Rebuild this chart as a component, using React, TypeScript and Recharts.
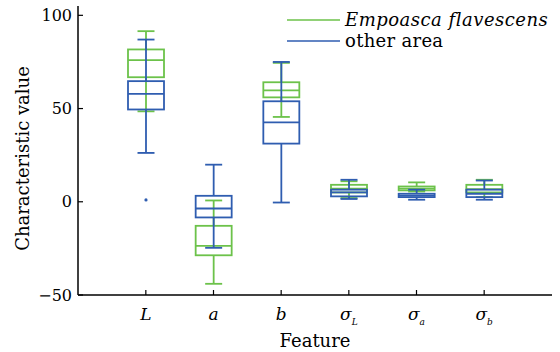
import { ComposedChart, Bar, XAxis, YAxis, Legend } from "recharts";

const features = ["L", "a", "b", "σL", "σa", "σb"];

// [lower whisker, q1, median, q3, upper whisker]
const empoasca = [
  [48.5, 66.8, 76, 81.7, 91.5],
  [-44, -28.7, -23.7, -12.9, 0.7],
  [45.5, 56, 59.8, 64.1, 74.5],
  [2, 5, 7, 9.1, 11],
  [5.5, 6.1, 7, 8.2, 10.4],
  [2.5, 5, 6.8, 9.1, 11.8],
];

const otherArea = [
  [26.2, 49.5, 57.9, 64.7, 87],
  [-24.7, -8.4, -3.6, 3.2, 19.9],
  [-0.4, 31.2, 42.6, 53.9, 75],
  [1.5, 2.9, 5, 6.5, 11.8],
  [1.1, 2.5, 3.3, 4.3, 6.5],
  [1.1, 2.5, 4.3, 6.5, 11.4],
];

const otherOutliers = [[1], [], [], [], [], []];

const yTicks = [-50, 0, 50, 100];

const GREEN = "#6cc24a";
const BLUE = "#2f5db0";
const FONT = "'DejaVu Serif', serif";

const data = features.map((f, i) => {
  const all = [...empoasca[i], ...otherArea[i], ...otherOutliers[i]];
  return {
    feature: f,
    green: empoasca[i],
    blue: otherArea[i],
    outliers: otherOutliers[i],
    range: [Math.min(...all), Math.max(...all)],
  };
});

function drawBox(stats: number[], color: string, cx: number, w: number, py: (v: number) => number, key: string) {
  const [lo, q1, med, q3, hi] = stats;
  const cap = 17;
  return (
    <g key={key} stroke={color} strokeWidth={1.8} fill="none">
      <line x1={cx} x2={cx} y1={py(hi)} y2={py(q3)} />
      <line x1={cx} x2={cx} y1={py(q1)} y2={py(lo)} />
      <line x1={cx - cap / 2} x2={cx + cap / 2} y1={py(hi)} y2={py(hi)} />
      <line x1={cx - cap / 2} x2={cx + cap / 2} y1={py(lo)} y2={py(lo)} />
      <rect x={cx - w / 2} y={py(q3)} width={w} height={py(q1) - py(q3)} />
      <line x1={cx - w / 2} x2={cx + w / 2} y1={py(med)} y2={py(med)} />
    </g>
  );
}

function BoxShape(props: any) {
  const { x, y, width, height, payload } = props;
  const [lo, hi] = payload.range;
  const top = Math.min(y, y + height);
  const bot = Math.max(y, y + height);
  const py = (v: number) => top + ((hi - v) / (hi - lo)) * (bot - top);
  const cx = x + width / 2;
  return (
    <g>
      {drawBox(payload.green, GREEN, cx, width, py, "g")}
      {drawBox(payload.blue, BLUE, cx, width, py, "b")}
      {payload.outliers.map((v: number, i: number) => (
        <circle key={i} cx={cx} cy={py(v)} r={1.6} fill={BLUE} />
      ))}
    </g>
  );
}

function FeatureTick({ x, y, payload }: any) {
  const v: string = payload.value;
  const isSigma = v.startsWith("σ");
  const base = isSigma ? "σ" : v;
  const sub = isSigma ? v.slice(1) : "";
  return (
    <text x={x} y={y} dy={19} textAnchor="middle" fontFamily={FONT} fontSize={17} fontStyle="italic" fill="#000">
      {base}
      {sub && (
        <tspan fontSize={9} dy={5}>
          {sub}
        </tspan>
      )}
    </text>
  );
}

function YLabel({ viewBox }: any) {
  const cx = 22;
  const cy = viewBox.y + viewBox.height / 2 + 8;
  return (
    <text x={cx} y={cy} transform={`rotate(-90 ${cx} ${cy})`} textAnchor="middle" dominantBaseline="central" fontFamily={FONT} fontSize={18} fill="#000">
      Characteristic value
    </text>
  );
}

function LegendBox() {
  const rows = [
    { name: "Empoasca flavescens", color: GREEN, italic: true },
    { name: "other area", color: BLUE, italic: false },
  ];
  return (
    <div style={{ fontFamily: FONT, fontSize: 18, color: "#000" }}>
      {rows.map((r) => (
        <div key={r.name} style={{ display: "flex", alignItems: "center", height: 21 }}>
          <svg width={53} height={4}>
            <line x1={0} x2={53} y1={2} y2={2} stroke={r.color} strokeWidth={1.5} />
          </svg>
          <span style={{ marginLeft: 5, fontStyle: r.italic ? "italic" : "normal", whiteSpace: "nowrap", letterSpacing: r.italic ? 0.5 : 0.3 }}>
            {r.name}
          </span>
        </div>
      ))}
    </div>
  );
}

export default function App() {
  return (
    <div style={{ position: "absolute", left: 0, top: 0, background: "#fff", fontFamily: FONT }}>
      <ComposedChart width={560} height={352} data={data} margin={{ top: 6, right: 8, left: 0, bottom: 0 }}>
        <XAxis
          dataKey="feature"
          height={57}
          padding={{ left: 34, right: 34 }}
          axisLine={{ stroke: "#000", strokeWidth: 1.5 }}
          tickLine={{ stroke: "#000", strokeWidth: 1.2 }}
          tickSize={-5}
          tickMargin={11}
          tick={<FeatureTick />}
          interval={0}
          label={{ value: "Feature", position: "insideBottom", offset: 5, fill: "#000", fontFamily: FONT, fontSize: 18 }}
        />
        <XAxis xAxisId="top" orientation="top" dataKey="feature" height={0} tick={false} tickLine={false} axisLine={{ stroke: "#000", strokeWidth: 1.5 }} />
        <YAxis
          width={78}
          domain={[-50, 105]}
          ticks={yTicks}
          allowDataOverflow
          axisLine={{ stroke: "#000", strokeWidth: 1.5 }}
          tickLine={{ stroke: "#000", strokeWidth: 1.2 }}
          tickSize={-5}
          tickMargin={11}
          tick={{ fill: "#000", fontFamily: FONT, fontSize: 16 }}
          tickFormatter={(v: number) => (v < 0 ? `−${Math.abs(v)}` : `${v}`)}
          label={<YLabel />}
        />
        <YAxis yAxisId="right" orientation="right" width={0} tick={false} tickLine={false} axisLine={{ stroke: "#000", strokeWidth: 1.5 }} />
        <Legend
          layout="vertical"
          align="center"
          verticalAlign="middle"
          wrapperStyle={{ left: 287, top: 9, width: 265 }}
          content={() => <LegendBox />}
        />
        <Bar dataKey="range" barSize={36} shape={<BoxShape />} isAnimationActive={false} />
      </ComposedChart>
    </div>
  );
}
